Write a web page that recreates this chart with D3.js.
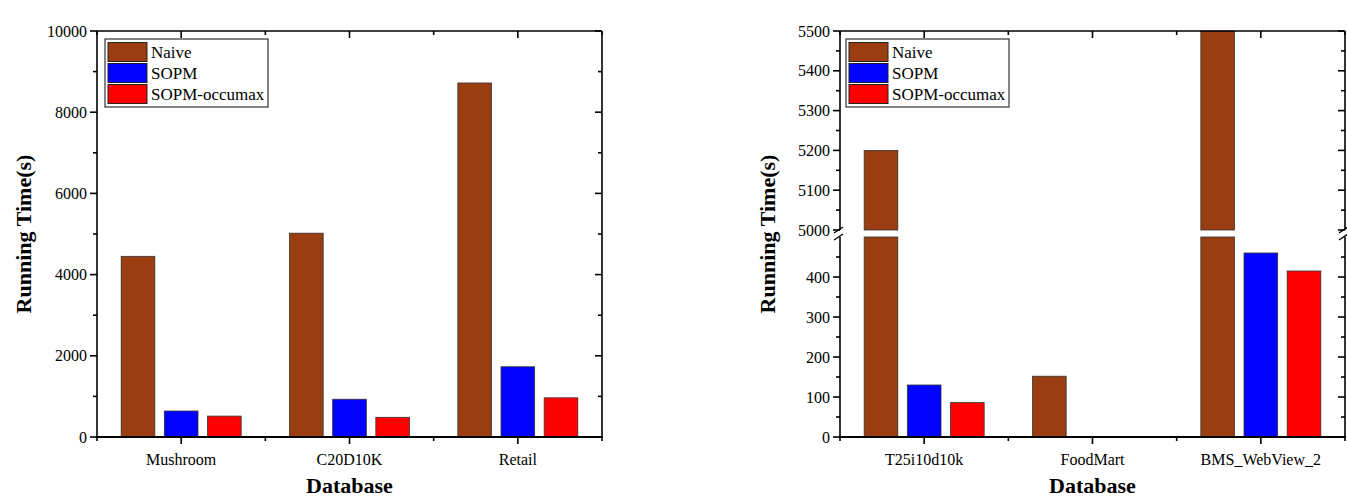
<!DOCTYPE html>
<html><head><meta charset="utf-8">
<script src="https://cdn.jsdelivr.net/npm/d3@7"></script>
<style>body{margin:0;background:#fff}svg{display:block}text{font-family:"Liberation Serif","Times New Roman",serif;fill:#000}</style>
</head><body>
<svg id="c" width="1347" height="499"></svg>
<script>
const seriesNames = ["Naive", "SOPM", "SOPM-occumax"];
const seriesColors = ["#9A3D10", "#0000FF", "#FF0000"];

const leftCategories = ["Mushroom", "C20D10K", "Retail"];
const leftNaive = [4450, 5020, 8720];
const leftSOPM = [640, 930, 1730];
const leftOccumax = [515, 485, 965];
const leftTicks = [0, 2000, 4000, 6000, 8000, 10000];

const rightCategories = ["T25i10d10k", "FoodMart", "BMS_WebView_2"];
const rightNaive = [5200, 152, 5500];
const rightSOPM = [130, 1.5, 460];
const rightOccumax = [86, 1, 415];
const rightLowerTicks = [0, 100, 200, 300, 400];
const rightUpperTicks = [5000, 5100, 5200, 5300, 5400, 5500];

const svg = d3.select("#c");

function drawPanel(cfg) {
  const g = svg.append("g");
  const {x0, x1, yTop, yBot, cats, vals} = cfg;
  const xb = d3.scaleBand().domain(cats).range([x0, x1]);
  const xs = d3.scaleBand().domain(seriesNames).range([0, 120]).paddingInner(0.22);
  const bw = xs.bandwidth();
  const segs = cfg.segs;
  // bars
  cats.forEach((c, i) => {
    seriesNames.forEach((s, j) => {
      const v = vals[j][i];
      const bx = xb(c) + xb.bandwidth() / 2 - 60 + xs(s);
      segs.forEach(sg => {
        if (v <= sg.min) return;
        const top = sg.scale(Math.min(v, sg.max));
        const bot = sg.scale(sg.min);
        g.append("rect").attr("x", bx).attr("y", top).attr("width", bw).attr("height", Math.max(0, bot - top))
          .attr("fill", seriesColors[j]).attr("stroke", "#333").attr("stroke-width", 0.8);
      });
    });
  });
  // frame
  const ax = g.append("g").attr("stroke", "#000").attr("stroke-width", 1.6).attr("fill", "none");
  ax.append("line").attr("x1", x0).attr("x2", x1).attr("y1", yTop).attr("y2", yTop);
  ax.append("line").attr("x1", x0 - 1).attr("x2", x1 + 1).attr("y1", yBot).attr("y2", yBot).attr("stroke-width", 2.2);
  segs.forEach(sg => {
    const a = sg.scale(sg.min), b = sg.scale(sg.max);
    ax.append("line").attr("x1", x0).attr("x2", x0).attr("y1", a).attr("y2", b);
    ax.append("line").attr("x1", x1).attr("x2", x1).attr("y1", a).attr("y2", b);
    sg.major.forEach(t => {
      const y = sg.scale(t);
      ax.append("line").attr("x1", x0 - 7).attr("x2", x0).attr("y1", y).attr("y2", y);
      ax.append("line").attr("x1", x1 - 7).attr("x2", x1).attr("y1", y).attr("y2", y);
      if (sg.labels) g.append("text").attr("x", x0 - 10).attr("y", y + 5.5).attr("text-anchor", "end")
        .style("font-size", "16px").text(t);
    });
    sg.minor.forEach(t => {
      const y = sg.scale(t);
      ax.append("line").attr("x1", x0 - 4).attr("x2", x0).attr("y1", y).attr("y2", y);
      ax.append("line").attr("x1", x1 - 4).attr("x2", x1).attr("y1", y).attr("y2", y);
    });
  });
  // x ticks
  cats.forEach((c, i) => {
    const cx = xb(c) + xb.bandwidth() / 2;
    ax.append("line").attr("x1", cx).attr("x2", cx).attr("y1", yBot).attr("y2", yBot + 7);
    ax.append("line").attr("x1", cx).attr("x2", cx).attr("y1", yTop).attr("y2", yTop + 7);
    g.append("text").attr("x", cx).attr("y", yBot + 28).attr("text-anchor", "middle").style("font-size", "16px").text(c);
  });
  d3.range(cats.length + 1).forEach(i => {
    const bx = x0 + i * xb.bandwidth();
    ax.append("line").attr("x1", bx).attr("x2", bx).attr("y1", yBot).attr("y2", yBot + 4);
    ax.append("line").attr("x1", bx).attr("x2", bx).attr("y1", yTop).attr("y2", yTop + 4);
  });
  // titles
  g.append("text").attr("x", (x0 + x1) / 2).attr("y", 493).attr("text-anchor", "middle")
    .style("font-size", "22px").style("font-weight", "bold").text("Database");
  g.append("text").attr("transform", `translate(${cfg.ytx},${(yTop + yBot) / 2}) rotate(-90)`).attr("text-anchor", "middle")
    .style("font-size", "22px").style("font-weight", "bold").text("Running Time(s)");
  // legend
  const lg = g.append("g").attr("transform", `translate(${x0 + cfg.legDx},39)`);
  lg.append("rect").attr("width", 163).attr("height", 68).attr("fill", "#fff").attr("stroke", "#333").attr("stroke-width", 1.2);
  seriesNames.forEach((s, j) => {
    lg.append("rect").attr("x", 3).attr("y", 3.5 + j * 21).attr("width", 39).attr("height", 19)
      .attr("fill", seriesColors[j]).attr("stroke", "#222").attr("stroke-width", 1);
    lg.append("text").attr("x", 46).attr("y", 19 + j * 21).style("font-size", "17px").text(s);
  });
  return g;
}

// Left panel
const yL = d3.scaleLinear().domain([0, 10000]).range([437, 31]);
drawPanel({
  x0: 97, x1: 602, yTop: 31, yBot: 437, cats: leftCategories,
  vals: [leftNaive, leftSOPM, leftOccumax], ytx: 31, legDx: 8,
  segs: [{scale: yL, min: 0, max: 10000, major: leftTicks, minor: [1000, 3000, 5000, 7000, 9000], labels: true}]
});

// Right panel (broken axis)
const yLow = d3.scaleLinear().domain([0, 500]).range([437, 237]);
const yUp = d3.scaleLinear().domain([5000, 5500]).range([230, 31]);
const gR = drawPanel({
  x0: 840, x1: 1345, yTop: 31, yBot: 437, cats: rightCategories,
  vals: [rightNaive, rightSOPM, rightOccumax], ytx: 775, legDx: 6,
  segs: [
    {scale: yLow, min: 0, max: 500, major: rightLowerTicks, minor: [50, 150, 250, 350, 450], labels: true},
    {scale: yUp, min: 5000, max: 5500, major: rightUpperTicks, minor: [5050, 5150, 5250, 5350, 5450], labels: true}
  ]
});
// break marks
[840, 1345].forEach(x => {
  [yUp(5000), yLow(500)].forEach(y => {
    gR.append("line").attr("x1", x - 6).attr("x2", x + 3).attr("y1", y + 3).attr("y2", y - 3)
      .attr("stroke", "#000").attr("stroke-width", 1.4);
  });
});
</script>
</body></html>
